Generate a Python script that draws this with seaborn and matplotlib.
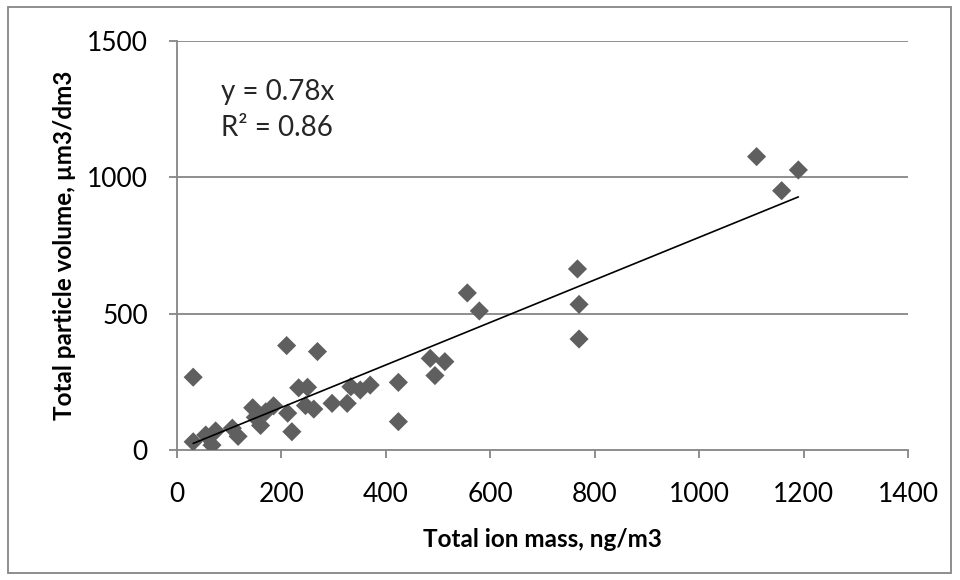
import matplotlib
matplotlib.use("Agg")
import matplotlib.pyplot as plt
import matplotlib.patches as mpatches
import numpy as np
import pandas as pd
import seaborn as sns

# ---- data ----
ion_mass = [31, 31, 55, 67, 74, 106, 117, 145, 150, 160, 185, 170,
            210, 212, 220, 233, 250, 246, 262, 269, 297, 326, 333, 351,
            370, 424, 424, 485, 513, 494, 556, 579, 767, 770, 770,
            1110, 1158, 1190]
particle_volume = [267, 30, 55, 18, 70, 80, 50, 155, 120, 90, 162, 140,
                   383, 135, 67, 228, 230, 163, 150, 361, 171, 171, 232, 220,
                   238, 248, 104, 336, 324, 273, 576, 510, 664, 534, 407,
                   1076, 951, 1027]
slope = 0.78
r_squared = 0.86
x_ticks = [0, 200, 400, 600, 800, 1000, 1200, 1400]
y_ticks = [0, 500, 1000, 1500]

df = pd.DataFrame({"x": ion_mass, "y": particle_volume})

sns.set_theme(style="white")
plt.rcParams["font.family"] = ["Lato", "DejaVu Sans"]

fig = plt.figure(figsize=(9.6, 5.8), dpi=100)
ax = fig.add_axes([177 / 960, 1 - 450 / 580, (908 - 177) / 960, (450 - 41) / 580])

grey = "#868686"
ax.set_xlim(0, 1400)
ax.set_ylim(0, 1500)
ax.set_xticks(x_ticks)
ax.set_yticks(y_ticks)
for yv in y_ticks[1:]:
    ax.axhline(yv, color=grey, lw=1.3, zorder=0)

sns.scatterplot(data=df, x="x", y="y", marker="D", s=95, color="#5f5f5f",
                edgecolor="none", linewidth=0, ax=ax, zorder=3)

xl = np.array([min(ion_mass), max(ion_mass)])
sns.lineplot(x=xl, y=slope * xl, color="black", lw=1.2, ax=ax, zorder=4)

for side in ["top", "right"]:
    ax.spines[side].set_visible(False)
for side in ["left", "bottom"]:
    ax.spines[side].set_color(grey)
    ax.spines[side].set_linewidth(1.3)

ax.tick_params(axis="both", which="major", direction="out", length=6,
               width=1.3, color=grey, labelsize=19, labelcolor="black")
ax.tick_params(axis="x", bottom=True, pad=17)
ax.tick_params(axis="y", left=True, pad=15)

ax.set_xlabel("Total ion mass, ng/m3", fontsize=17.5, fontweight="bold",
              labelpad=15, color="black")
ax.set_ylabel("Total particle volume, µm3/dm3", fontsize=17.5,
              fontweight="bold", labelpad=8, color="black")

ax.text(84, 1312, f"y = {slope}x", fontsize=20, va="center", ha="left")
ax.text(84, 1180, f"R² = {r_squared}", fontsize=20, va="center", ha="left")

border = mpatches.Rectangle((8 / 960, 1 - 573 / 580), (951 - 8) / 960,
                            (573 - 7) / 580, transform=fig.transFigure,
                            fill=False, edgecolor=grey, lw=1.3)
fig.patches.append(border)

fig.savefig("out.png", dpi=100)
